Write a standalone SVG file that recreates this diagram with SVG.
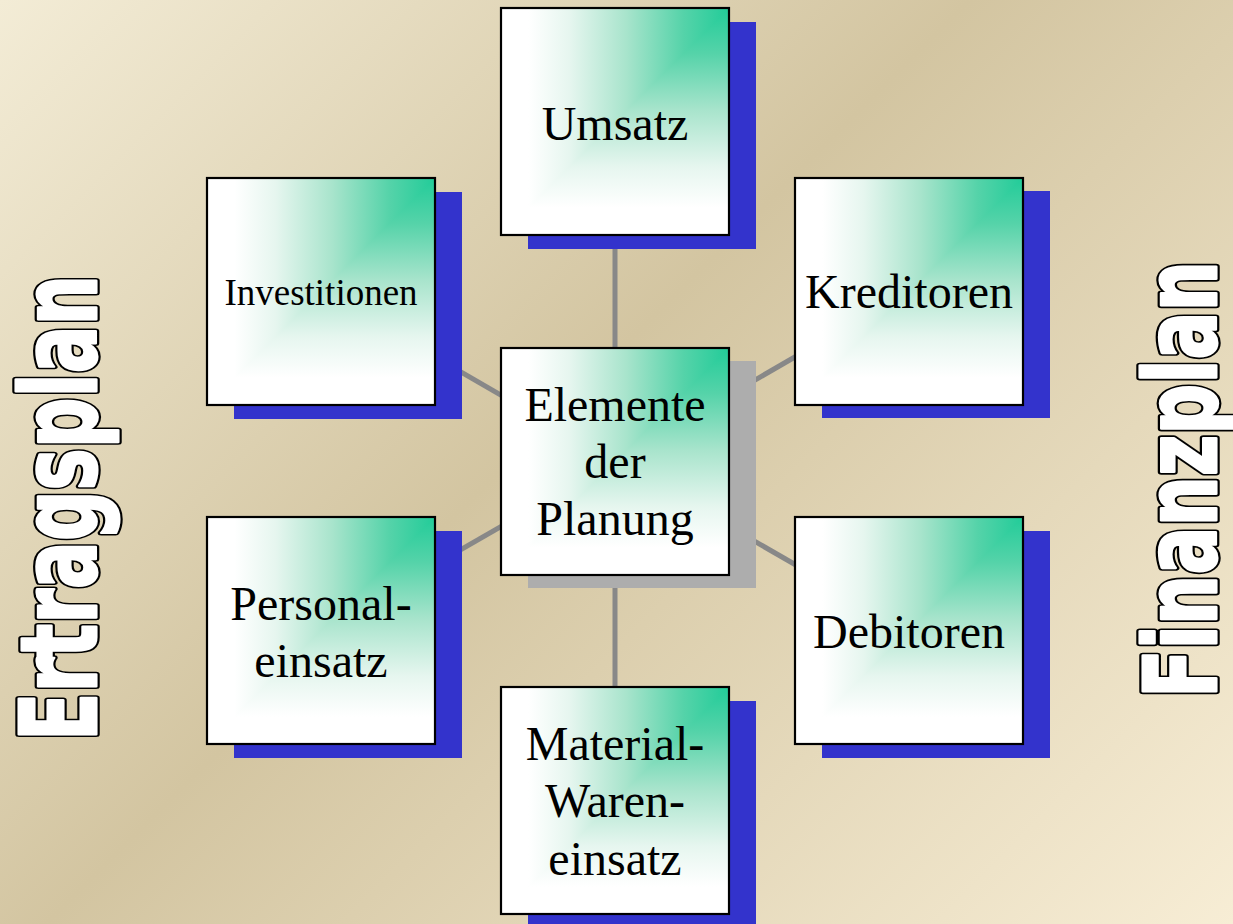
<svg xmlns="http://www.w3.org/2000/svg" width="1233" height="924" viewBox="0 0 1233 924">
<defs>
<linearGradient id="bg" gradientUnits="userSpaceOnUse" x1="0" y1="0" x2="1078.5" y2="1078.5">
<stop offset="0" stop-color="#F3ECD6"/>
<stop offset="0.45" stop-color="#D3C5A1"/>
<stop offset="1" stop-color="#F7EDD5"/>
</linearGradient>
<linearGradient id="gh" x1="1" y1="0" x2="0" y2="0">
<stop offset="0" stop-color="#22CC99"/>
<stop offset="0.2" stop-color="#55D3A9"/>
<stop offset="0.45" stop-color="#A8E4CC"/>
<stop offset="0.7" stop-color="#E6F6EF"/>
<stop offset="0.88" stop-color="#FFFFFF"/>
</linearGradient>
<linearGradient id="gv" x1="0" y1="0" x2="0" y2="1">
<stop offset="0" stop-color="#22CC99"/>
<stop offset="0.2" stop-color="#55D3A9"/>
<stop offset="0.45" stop-color="#A8E4CC"/>
<stop offset="0.7" stop-color="#E6F6EF"/>
<stop offset="0.88" stop-color="#FFFFFF"/>
</linearGradient>
<g id="face">
<rect x="0" y="0" width="228" height="227" fill="url(#gv)"/>
<polygon points="0,0 228,0 0,227" fill="url(#gh)"/>
<rect x="0" y="0" width="228" height="227" fill="none" stroke="#000" stroke-width="2.2"/>
</g>
</defs>
<style>
.sh{fill:#3333CC}
.shg{fill:#ADADAD}
.lbl{font-family:"Liberation Serif","Times New Roman",serif;font-size:48px;fill:#000;text-anchor:middle}
.small{font-size:37px}
.side{font-family:"DejaVu Sans","Verdana",sans-serif;font-weight:bold;stroke-linejoin:round}
.out{fill:#000;stroke:#000;stroke-width:7.5}
.in{fill:#fff;stroke:#fff;stroke-width:3}
.con{stroke:#888;stroke-width:5;fill:none}
</style>
<rect x="0" y="0" width="1233" height="924" fill="url(#bg)"/>

<g id="ertragsplan" transform="translate(96,741) rotate(-90)">
<text class="side out" font-size="106" textLength="466" lengthAdjust="spacingAndGlyphs">Ertragsplan</text>
<text class="side in" font-size="106" textLength="466" lengthAdjust="spacingAndGlyphs">Ertragsplan</text>
</g>
<g id="finanzplan" transform="translate(1216,698) rotate(-90)">
<text class="side out" font-size="99" textLength="437" lengthAdjust="spacingAndGlyphs">Finanzplan</text>
<text class="side in" font-size="99" textLength="437" lengthAdjust="spacingAndGlyphs">Finanzplan</text>
</g>

<g id="connectors">
<line class="con" x1="615" y1="461" x2="615" y2="121"/>
<line class="con" x1="615" y1="461" x2="615" y2="800"/>
<line class="con" x1="615" y1="461" x2="321" y2="291"/>
<line class="con" x1="615" y1="461" x2="909" y2="291"/>
<line class="con" x1="615" y1="461" x2="321" y2="630"/>
<line class="con" x1="615" y1="461" x2="909" y2="630"/>
</g>

<g id="umsatz">
<rect class="sh" x="528" y="22" width="228" height="227"/>
<use href="#face" x="501" y="8"/>
<text class="lbl" x="615" y="140">Umsatz</text>
</g>
<g id="investitionen">
<rect class="sh" x="234" y="192" width="228" height="227"/>
<use href="#face" x="207" y="178"/>
<text class="lbl small" x="321" y="305">Investitionen</text>
</g>
<g id="kreditoren">
<rect class="sh" x="822" y="191" width="228" height="227"/>
<use href="#face" x="795" y="178"/>
<text class="lbl" x="909" y="308">Kreditoren</text>
</g>
<g id="center">
<rect class="shg" x="528" y="361" width="228" height="227"/>
<use href="#face" x="501" y="348"/>
<text class="lbl" x="615" y="421">Elemente</text>
<text class="lbl" x="615" y="478">der</text>
<text class="lbl" x="615" y="535">Planung</text>
</g>
<g id="personal">
<rect class="sh" x="234" y="531" width="228" height="227"/>
<use href="#face" x="207" y="517"/>
<text class="lbl" x="321" y="620">Personal-</text>
<text class="lbl" x="321" y="677">einsatz</text>
</g>
<g id="debitoren">
<rect class="sh" x="822" y="531" width="228" height="227"/>
<use href="#face" x="795" y="517"/>
<text class="lbl" x="909" y="648">Debitoren</text>
</g>
<g id="material">
<rect class="sh" x="528" y="701" width="228" height="227"/>
<use href="#face" x="501" y="687"/>
<text class="lbl" x="615" y="760">Material-</text>
<text class="lbl" x="615" y="817">Waren-</text>
<text class="lbl" x="615" y="875">einsatz</text>
</g>
</svg>
